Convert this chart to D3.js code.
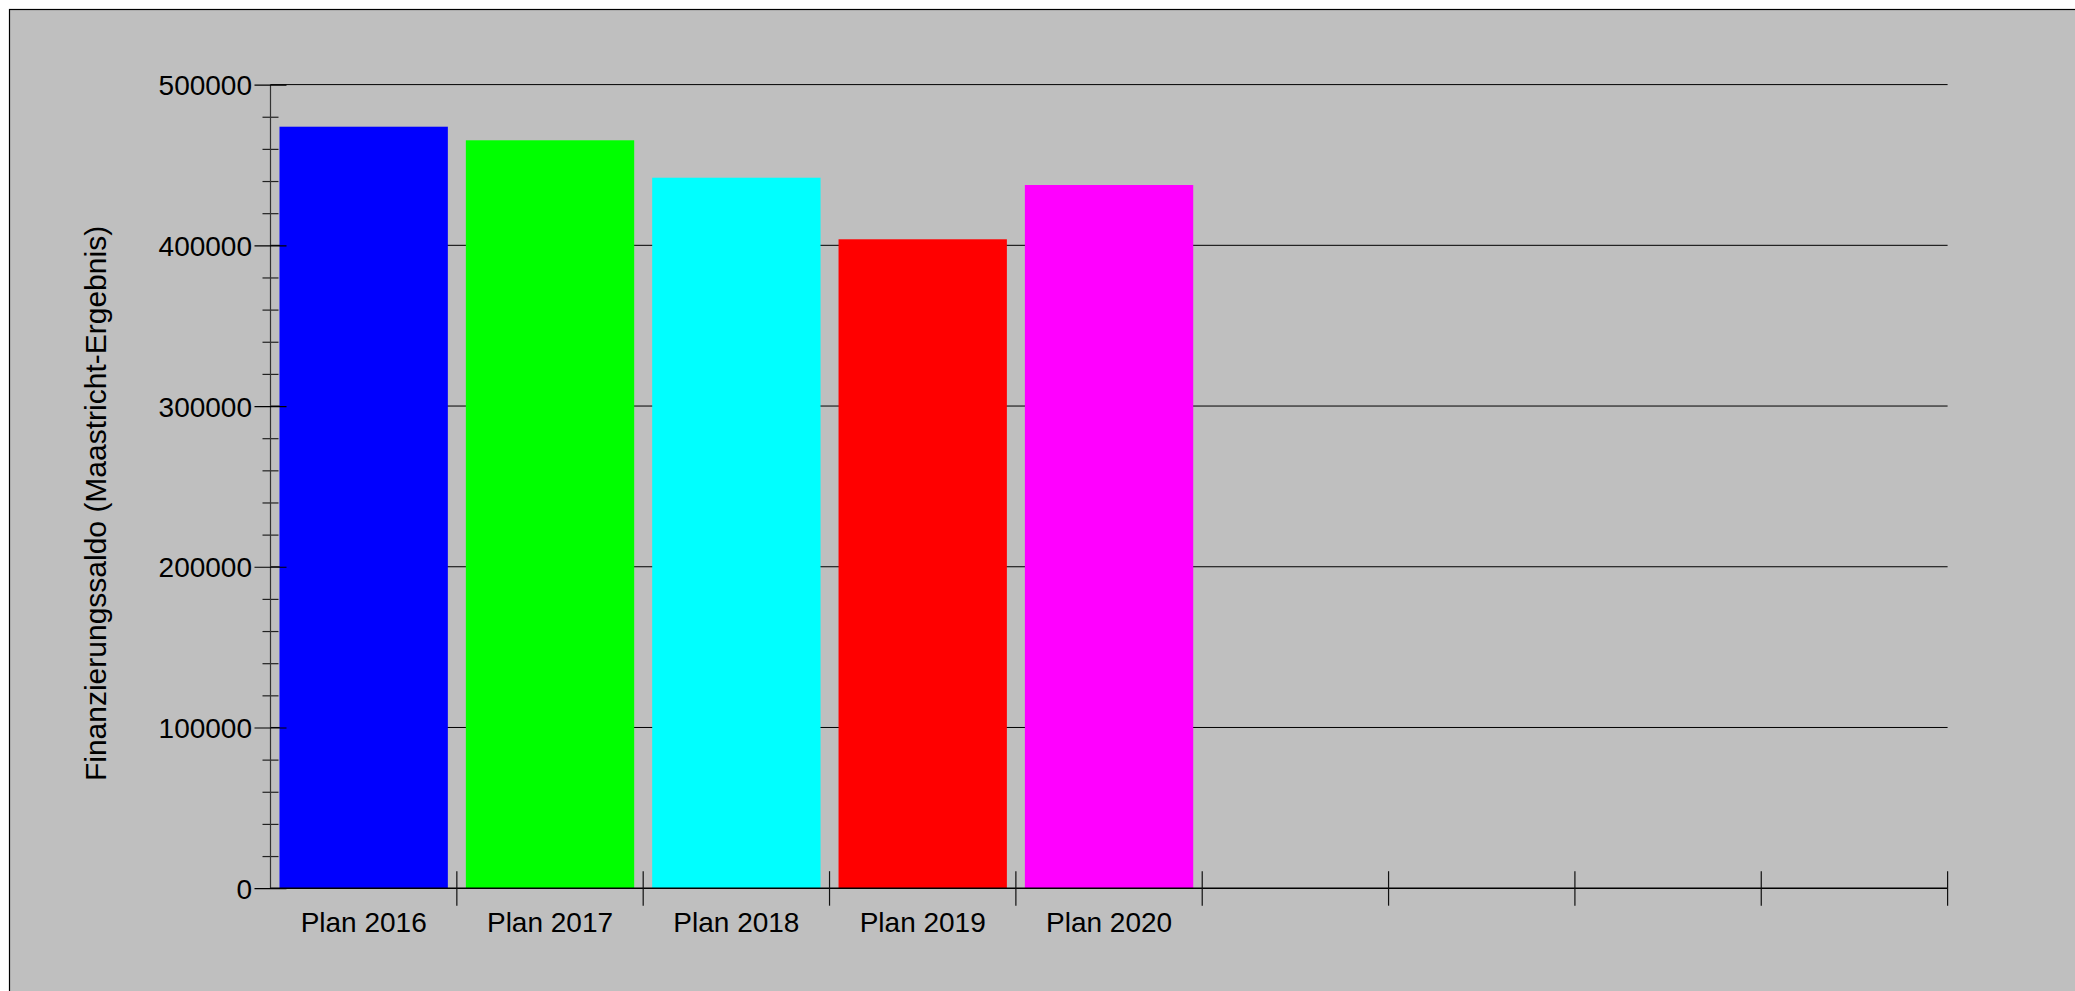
<!DOCTYPE html>
<html>
<head>
<meta charset="utf-8">
<script src="https://cdn.jsdelivr.net/npm/d3@7"></script>
<style>
  html, body { margin: 0; padding: 0; background: #fff; overflow: hidden; }
  svg text { font-family: "Liberation Sans", Arial, Helvetica, sans-serif; fill: #000; }
</style>
</head>
<body>
<script>
// chart data
var categories = ['Plan 2016', 'Plan 2017', 'Plan 2018', 'Plan 2019', 'Plan 2020'];
var values = [473800, 465350, 442070, 403750, 437530];
var barColors = ['#0000ff', '#00ff00', '#00ffff', '#ff0000', '#ff00ff'];
var slotCount = 9; // the x axis has room for 9 bars, only 5 are used
var yMajorTicks = [0, 100000, 200000, 300000, 400000, 500000];
var yMinorTicks = d3.range(0, 500001, 20000).filter(function (d) { return d % 100000 !== 0; });
var yTitle = 'Finanzierungssaldo (Maastricht-Ergebnis)';

var svgWidth = 2075, svgHeight = 991;
// plot area edges (window.top is read-only, so no "top" here)
var plotLeft = 270.5, plotRight = 1947.6, plotTop = 84.6, plotBottom = 888.2;

var svg = d3.select('body').append('svg')
  .attr('width', svgWidth)
  .attr('height', svgHeight);

// frame
svg.append('rect')
  .attr('x', 9.5).attr('y', 9.5)
  .attr('width', svgWidth + 20).attr('height', svgHeight + 20)
  .attr('fill', '#bfbfbf')
  .attr('stroke', '#000')
  .attr('stroke-width', 1.2);

var slots = d3.range(slotCount);

var x = d3.scaleBand()
  .domain(slots)
  .range([plotLeft, plotRight])
  .paddingInner(0.0966)
  .paddingOuter(0.0483);

var y = d3.scaleLinear()
  .domain([0, 500000])
  .range([plotBottom, plotTop]);

// grid lines
svg.append('g')
  .selectAll('line')
  .data(yMajorTicks.filter(function (d) { return d > 0; }))
  .enter()
  .append('line')
  .attr('x1', plotLeft).attr('x2', plotRight)
  .attr('y1', function (d) { return y(d); })
  .attr('y2', function (d) { return y(d); })
  .attr('stroke', '#000')
  .attr('stroke-width', 1);

// bars
svg.append('g')
  .selectAll('rect')
  .data(values)
  .enter()
  .append('rect')
  .attr('x', function (d, i) { return x(i); })
  .attr('width', x.bandwidth())
  .attr('y', function (d) { return y(d); })
  .attr('height', function (d) { return y(0) - y(d); })
  .attr('fill', function (d, i) { return barColors[i]; });

// y axis, minor ticks
var yMinor = svg.append('g')
  .attr('transform', 'translate(' + plotLeft + ',0)')
  .call(d3.axisLeft(y).tickValues(yMinorTicks).tickSize(8).tickFormat(''));
yMinor.select('.domain').remove();
yMinor.selectAll('.tick line').attr('x1', 8).attr('stroke', '#222').attr('stroke-width', 1.2);

// y axis, major ticks + labels
var yAxis = svg.append('g')
  .attr('transform', 'translate(' + plotLeft + ',0)')
  .call(d3.axisLeft(y).tickValues(yMajorTicks).tickSize(16).tickPadding(2.5).tickFormat(d3.format('d')));
yAxis.select('.domain').attr('d', 'M0,' + plotTop + 'V' + plotBottom).attr('stroke', '#333').attr('stroke-width', 1.2);
yAxis.selectAll('.tick line').attr('x1', 16).attr('stroke', '#000').attr('stroke-width', 1.2);
yAxis.selectAll('.tick text').attr('font-size', 28).attr('dy', '0.36em');

// x axis: labels at bar centres
var xAxis = svg.append('g')
  .attr('transform', 'translate(0,' + plotBottom + ')')
  .call(d3.axisBottom(x).tickSize(0).tickPadding(24)
    .tickFormat(function (d) { return categories[d] || ''; }));
xAxis.select('.domain').attr('d', 'M' + plotLeft + ',0H' + plotRight).attr('stroke', '#000').attr('stroke-width', 1.5);
xAxis.selectAll('.tick text').attr('font-size', 28);

// x axis: slot separator ticks
svg.append('g')
  .selectAll('line')
  .data(slots)
  .enter()
  .append('line')
  .attr('x1', function (d) { return x(d) + x.bandwidth() + x.step() * x.paddingInner() / 2; })
  .attr('x2', function (d) { return x(d) + x.bandwidth() + x.step() * x.paddingInner() / 2; })
  .attr('y1', plotBottom - 17)
  .attr('y2', plotBottom + 17.5)
  .attr('stroke', '#111')
  .attr('stroke-width', 1.2);

// y title
svg.append('text')
  .attr('transform', 'translate(106,503.5) rotate(-90)')
  .attr('text-anchor', 'middle')
  .attr('font-size', 30)
  .text(yTitle);
</script>
</body>
</html>
